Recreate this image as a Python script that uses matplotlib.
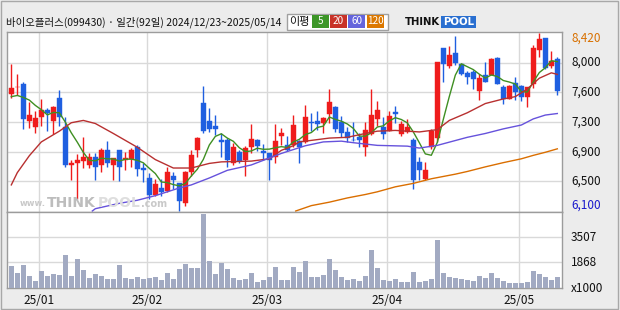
import matplotlib
matplotlib.use('Agg')
import matplotlib.pyplot as plt
import matplotlib.transforms as mtransforms
from matplotlib.patches import Rectangle
import numpy as np

plt.rcParams['font.family'] = ['Noto Sans CJK KR', 'DejaVu Sans']

# ---------------- data ----------------
title = "바이오플러스(099430) · 일간(92일) 2024/12/23~2025/05/14"
month_labels = ["25/01", "25/02", "25/03", "25/04", "25/05"]
month_start_idx = [5, 23, 43, 63, 85]

opens = [7630, 7710, 7750, 7270, 7190, 7330, 7410, 7270, 7570, 7200,
         6700, 6720, 6750, 6700, 6810, 6700, 6890, 6700, 6890, 6760,
         6780, 6930, 6660, 6530, 6310, 6400, 6360, 6560, 6470, 6200,
         6610, 6890, 7510, 7270, 7210, 7020, 7030, 6730, 6870, 6760,
         6930, 7030, 6880, 6860, 6810, 7080, 6960, 6960, 7010, 7000,
         7260, 7270, 7250, 7370, 7460, 7260, 7130, 7030, 7060, 6940,
         7100, 7300, 7200, 7140, 7390, 7100, 7130, 7020, 6740, 6520,
         6930, 7050, 8220, 7990, 8160, 8010, 7900, 7910, 7660, 7870,
         7870, 8090, 7720, 7560, 7770, 7730, 7590, 7760, 8200, 8350,
         7990, 8080]
highs = [8010, 7880, 7780, 7520, 7400, 7560, 7440, 7470, 7680, 7320,
         6770, 6840, 7060, 6860, 6860, 6920, 7010, 6790, 6890, 6870,
         6920, 6960, 6720, 6590, 6520, 6520, 6670, 6610, 6470, 6620,
         6900, 7060, 7730, 7440, 7350, 7110, 7050, 6980, 6890, 6950,
         7230, 7040, 6970, 6860, 7230, 7180, 7080, 7350, 7030, 7480,
         7380, 7400, 7320, 7690, 7470, 7340, 7200, 7260, 7120, 7260,
         7690, 7530, 7320, 7400, 7470, 7270, 7300, 7050, 6810, 6740,
         7170, 8040, 8220, 8250, 8380, 8020, 7930, 7940, 7890, 8040,
         8090, 8100, 7740, 7740, 7850, 7740, 7720, 8260, 8420, 8350,
         8190, 8110]
lows = [7570, 7610, 7170, 7180, 7110, 7210, 7140, 7100, 7210, 6670,
        6510, 6260, 6660, 6660, 6510, 6610, 6670, 6510, 6490, 6640,
        6670, 6560, 6480, 6260, 6300, 6300, 6350, 6390, 6100, 6170,
        6550, 6800, 7110, 7130, 7090, 6800, 6670, 6700, 6730, 6560,
        6850, 6880, 6760, 6500, 6730, 6960, 6880, 6930, 6720, 6990,
        7140, 7150, 7120, 7250, 7130, 7060, 7000, 7010, 6930, 6820,
        7090, 7210, 7040, 7140, 7250, 7080, 7110, 6390, 6510, 6510,
        6910, 7000, 7780, 7960, 8000, 7870, 7760, 7690, 7550, 7780,
        7870, 7750, 7500, 7560, 7540, 7530, 7460, 7700, 8110, 7950,
        7960, 7610]
closes = [7700, 7720, 7300, 7350, 7310, 7420, 7380, 7460, 7330, 6700,
          6720, 6770, 6800, 6810, 6670, 6890, 6730, 6790, 6670, 6790,
          6900, 6650, 6630, 6310, 6450, 6350, 6610, 6500, 6230, 6610,
          6830, 7050, 7140, 7170, 7170, 7000, 6770, 6930, 6750, 6920,
          7040, 6950, 6860, 6760, 7010, 7110, 6900, 7220, 6930, 7320,
          7240, 7230, 7310, 7520, 7170, 7120, 7050, 7020, 7020, 7160,
          7350, 7420, 7100, 7340, 7370, 7230, 7200, 6510, 6640, 6640,
          7140, 8040, 8010, 8130, 8030, 7880, 7850, 7820, 7830, 7780,
          8080, 7750, 7560, 7730, 7650, 7590, 7720, 8220, 8340, 7960,
          8050, 7660]
volumes = [1650, 1200, 1700, 980, 670, 1310, 980, 1110, 1040, 2350,
           980, 2090, 1370, 850, 1110, 980, 810, 780, 1700, 830,
           780, 890, 810, 870, 910, 720, 1180, 780, 1440, 1760,
           1500, 1500, 5030, 1960, 1110, 1850, 1440, 850, 720, 780,
           1180, 590, 720, 910, 1570, 720, 720, 1570, 1260, 1960,
           910, 910, 1040, 2090, 1370, 910, 720, 780, 650, 980,
           2680, 1500, 720, 650, 780, 590, 590, 1240, 590, 650,
           780, 3330, 1180, 910, 850, 780, 720, 650, 980, 850,
           1180, 850, 650, 520, 520, 520, 590, 1310, 1110, 910,
           720, 910]

# moving averages (index, value)
ma5_head = [7590, 7605, 7580, 7545]
ma20_idx = [0, 1, 3, 5, 8, 10, 12, 14, 17, 21, 24, 27, 30, 33, 35, 40, 43, 45,
            47, 48, 50, 53, 56, 59, 61, 64, 68, 71, 73, 76, 79, 82, 84, 86, 88, 90, 91]
ma20_val = [6440, 6600, 6820, 7000, 7140, 7250, 7280, 7240, 7110, 6930, 6770, 6660,
            6660, 6720, 6740, 6750, 6780, 6890, 6950, 7000, 7020, 7050, 7060, 7110,
            7140, 7150, 7130, 7160, 7280, 7380, 7500, 7560, 7590, 7690, 7830, 7900, 7880]
ma60_idx = [13.5, 14, 18, 21, 24, 28, 30, 33, 36, 40, 43, 45, 47, 49, 52, 55, 57, 61,
            66, 68, 71, 76, 79, 82, 85, 87, 89, 91]
ma60_val = [6100, 6130, 6200, 6240, 6300, 6400, 6440, 6530, 6630, 6700, 6790, 6850,
            6900, 6950, 7000, 7010, 6990, 6955, 6945, 6920, 6955, 7060, 7110, 7170,
            7220, 7300, 7350, 7370]
ma120_idx = [47.4, 50, 53, 56, 59, 61, 64, 67, 70, 74, 76, 79, 82, 85, 87, 89, 91]
ma120_val = [6100, 6170, 6215, 6270, 6315, 6350, 6415, 6460, 6520, 6580, 6615, 6675,
             6730, 6780, 6825, 6865, 6910]

price_tick_labels = ["6,500", "6,900", "7,300", "7,600", "8,000"]
vol_tick_vals = [1868, 3507]
vol_tick_labels = ["1868", "3507"]
legend_items = ["5", "20", "60", "120"]

# ---------------- style ----------------
RED, BLUE = '#ef1c1c', '#1f5fe0'
VOLC = '#a2aac2'
GRID = '#d9d9d9'
SPINE = '#9c9c9c'
MA_COLORS = ['#3f8f22', '#b83030', '#6652dc', '#da6e00']
LEG_COLORS = ['#3c9628', '#c83228', '#6464dc', '#dc7800']

W, H = 620, 310
fig = plt.figure(figsize=(W / 100, H / 100), dpi=100, facecolor='#ececec')

def fx(x):
    return x / W

def fy(y):
    return 1 - y / H

L, R, T, M, B = 7, 562, 32, 212, 288
ax = fig.add_axes([fx(L), fy(M), fx(R) - fx(L), fy(T) - fy(M)])
axv = fig.add_axes([fx(L), fy(B), fx(R) - fx(L), fy(M) - fy(B)], sharex=ax)

n = len(closes)
idx = np.arange(n)
o = np.array(opens, float); h = np.array(highs, float)
lo = np.array(lows, float); c = np.array(closes, float)
v = np.array(volumes, float)

pmin, pmax = lo.min(), h.max()
ylo, yhi = pmin - 13, pmax + 12
ax.set_ylim(ylo, yhi)
ax.set_xlim(-0.72, n - 0.22)
axv.set_ylim(196, 5159)

for a in (ax, axv):
    a.set_facecolor('white')
    for s in a.spines.values():
        s.set_color(SPINE)
        s.set_linewidth(1)
    a.tick_params(left=False, right=False, bottom=False, top=False,
                  labelleft=False, labelbottom=False)
    for mi in month_start_idx:
        a.axvline(mi - 0.4, color=GRID, lw=1, zorder=0)

# price grid lines, evenly spaced between min and max
tick_pos = [pmin + (pmax - pmin) * k / 6 for k in range(1, 6)]
for tp in tick_pos:
    ax.axhline(tp, color=GRID, lw=1, zorder=0)
for tv in vol_tick_vals:
    axv.axhline(tv, color=GRID, lw=1, zorder=0)

# watermark
wm_col = '#c9c9c9'
fig.text(fx(20), fy(204), "www.", color=wm_col, fontsize=6, fontweight='bold',
         va='center', ha='left', family='DejaVu Sans', zorder=0.5)
fig.text(fx(47), fy(203), "THINK", color='#bdbdbd', fontsize=10, fontweight='bold',
         va='center', ha='left', family='DejaVu Sans', zorder=0.5)
fig.text(fx(98), fy(203), "POOL", color='#dedede', fontsize=10, fontweight='bold',
         va='center', ha='left', family='DejaVu Sans', zorder=0.5)
fig.text(fx(141), fy(204), ".com", color=wm_col, fontsize=7, fontweight='bold',
         va='center', ha='left', family='DejaVu Sans', zorder=0.5)

# candles
up = c >= o
cols = np.where(up, RED, BLUE)
ax.vlines(idx, lo, h, colors=cols, lw=1, zorder=3)
body_b = np.minimum(o, c)
body_h = np.maximum(np.abs(c - o), 9)
ax.bar(idx, body_h, bottom=body_b, width=0.78, color=cols, edgecolor=cols,
       lw=0.3, zorder=4)

# moving averages
ma5 = np.array(ma5_head + [c[i - 4:i + 1].mean() for i in range(4, n)])
ax.plot(idx, ma5, color=MA_COLORS[0], lw=1, zorder=5)
ax.plot(ma20_idx, ma20_val, color=MA_COLORS[1], lw=1, zorder=5)
ax.plot(ma60_idx, ma60_val, color=MA_COLORS[2], lw=1, zorder=5)
ax.plot(ma120_idx, ma120_val, color=MA_COLORS[3], lw=1, zorder=5)

# volume
axv.bar(idx, v, width=0.8, color=VOLC, zorder=3)

# right-side labels
lab_x = 1 + 9 / (R - L)
tr = mtransforms.blended_transform_factory(ax.transAxes, ax.transData)
for tp, tl in zip(tick_pos, price_tick_labels):
    ax.text(lab_x, tp, tl, transform=tr, ha='left', va='center', fontsize=8.5,
            color='#111111', clip_on=False)
ax.text(lab_x, yhi, f"{int(pmax):,}", transform=tr, ha='left', va='top',
        fontsize=8.5, color='#d87000', clip_on=False)
ax.text(lab_x, ylo, f"{int(pmin):,}", transform=tr, ha='left', va='bottom',
        fontsize=8.5, color='#1a1acc', clip_on=False)
trv = mtransforms.blended_transform_factory(axv.transAxes, axv.transData)
for tv, tl in zip(vol_tick_vals, vol_tick_labels):
    axv.text(lab_x, tv, tl, transform=trv, ha='left', va='center', fontsize=8.5,
             color='#111111', clip_on=False)
axv.text(lab_x, 0.0, "x1000", transform=axv.transAxes, ha='left', va='center',
         fontsize=8.5, color='#111111', clip_on=False)

# month labels
trm = mtransforms.blended_transform_factory(axv.transData, fig.transFigure)
for mi, ml in zip(month_start_idx, month_labels):
    axv.text(mi - 0.4, fy(300), ml, transform=trm, ha='center', va='center',
             fontsize=8.5, color='#111111', clip_on=False)

# title
fig.text(fx(6), fy(22), title, ha='left', va='center', fontsize=7.5, color='#111111')

# legend box
fig.patches.append(Rectangle((fx(286.5), fy(29.5)), fx(101), 15.5 / H,
                             transform=fig.transFigure, facecolor='white',
                             edgecolor='#a0a0a0', lw=1))
fig.text(fx(299), fy(21.5), "이평", ha='center', va='center', fontsize=8, color='#111111')
box_x = [312, 330, 348, 367]
box_w = [17, 17, 17, 17]
for bx, bw, col, lab in zip(box_x, box_w, LEG_COLORS, legend_items):
    fig.patches.append(Rectangle((fx(bx), fy(27.5)), fx(bw), 12.5 / H,
                                 transform=fig.transFigure, facecolor=col,
                                 edgecolor='none'))
    fig.text(fx(bx + bw / 2), fy(21.5), lab, ha='center', va='center',
             fontsize=7.2, color='white')

# THINKPOOL logo
fig.text(fx(405), fy(22), "THINK", ha='left', va='center', fontsize=7.3,
         fontweight='bold', color='#111111', family='DejaVu Sans')
fig.patches.append(Rectangle((fx(441), fy(28)), fx(35), 12 / H,
                             transform=fig.transFigure, facecolor='#2a6fd0',
                             edgecolor='none'))
fig.text(fx(458.5), fy(22), "POOL", ha='center', va='center', fontsize=7.3,
         fontweight='bold', color='white', family='DejaVu Sans')

# outer frame
fig.patches.append(Rectangle((fx(1), fy(308.5)), fx(616.5), 307.5 / H,
                             transform=fig.transFigure, facecolor='none',
                             edgecolor='#a8a8a8', lw=1))

fig.savefig('out.png', dpi=100, facecolor=fig.get_facecolor())
